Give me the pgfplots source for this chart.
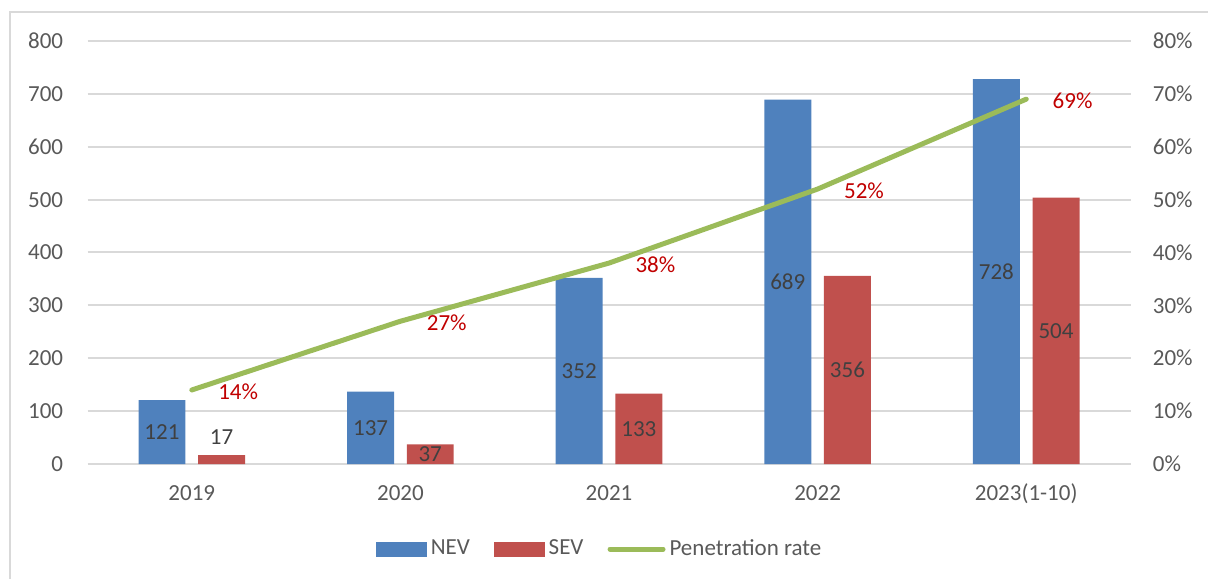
\documentclass[border=0pt]{standalone}
\usepackage{pgfplots}
\pgfplotsset{compat=1.18}
\usepackage{pgfplotstable}
\usepackage{fontspec}
\setmainfont{Carlito}
\definecolor{nev}{HTML}{4F81BD}
\definecolor{sev}{HTML}{C0504D}
\definecolor{pen}{HTML}{9BBB59}
\definecolor{tickc}{HTML}{595959}
\definecolor{gridc}{HTML}{D9D9D9}
\definecolor{lab}{HTML}{404040}
\definecolor{pct}{HTML}{C00000}

\pgfplotstableread{
x nev sev
0 121 17
1 137 37
2 352 133
3 689 356
4 728 504
}\bars

\pgfplotstableread{
x y t
-0.143 60.5 121
0.143 51 17
0.857 68.5 137
1.143 18.5 37
1.857 176 352
2.143 66.5 133
2.857 344.5 689
3.143 178 356
3.857 364 728
4.143 252 504
}\barlabels

\pgfplotstableread{
x r t
0 0.14 14\%
1 0.27 27\%
2 0.38 38\%
3 0.52 52\%
4 0.69 69\%
}\rate

\begin{document}
\begin{tikzpicture}[font=\fontsize{11.5}{13.8}\selectfont]
\useasboundingbox (0,0) rectangle (604pt,289pt);
\draw[gridc, line width=0.8pt] (5pt,-2pt) -- (5pt,283pt) -- (610pt,283pt);
\pgfplotsset{base/.style={scale only axis, width=521.5pt, height=211.5pt,
  at={(43.75pt,57pt)}, anchor=south west, xmin=-0.5, xmax=4.5,
  axis line style={draw=none}, major tick length=0pt,
  tick label style={text=tickc},
  /pgf/number format/assume math mode=true}}

\begin{axis}[base, ymin=0, ymax=800, ytick={0,100,...,800},
  ymajorgrids, grid style={gridc, line width=1pt},
  xtick={0,1,2,3,4}, xticklabels={2019,2020,2021,2022,2023(1-10)},
  yticklabel style={anchor=east, inner sep=0pt, xshift=-12pt},
  xticklabel style={anchor=base, inner sep=0pt, yshift=-18pt}]
\addplot[ybar, bar width=0.225, bar shift=-0.143, fill=nev, draw=none] table[x=x,y=nev]{\bars};
\addplot[ybar, bar width=0.225, bar shift=0.143, fill=sev, draw=none] table[x=x,y=sev]{\bars};
\addplot[draw=none, mark=none, nodes near coords, point meta=explicit symbolic,
  nodes near coords style={anchor=center, text=lab, inner sep=0pt}]
  table[x=x, y=y, meta=t]{\barlabels};
\end{axis}

\begin{axis}[base, ymin=0, ymax=0.8, axis y line*=right, axis x line=none,
  ytick={0,0.1,0.2,0.3,0.4,0.5,0.6,0.7,0.8},
  yticklabels={0\%,10\%,20\%,30\%,40\%,50\%,60\%,70\%,80\%},
  yticklabel style={anchor=west, inner sep=0pt, xshift=11pt},
  legend style={at={(0.492,-0.201)}, anchor=center, legend columns=3, draw=none, fill=none,
    text=tickc, /tikz/every even column/.append style={column sep=10pt},
    nodes={inner xsep=2pt}}]
\addlegendimage{legend image code/.code={\fill[nev] (0pt,-3.5pt) rectangle (25pt,3.5pt);}}
\addlegendentry{NEV}
\addlegendimage{legend image code/.code={\fill[sev] (0pt,-3.5pt) rectangle (25pt,3.5pt);}}
\addlegendentry{SEV}
\addlegendimage{legend image code/.code={\draw[pen, line width=2.5pt, line cap=round] (0pt,0pt) -- (26.5pt,0pt);}}
\addlegendentry{Penetration rate}
\addplot[forget plot, pen, line width=2.5pt, mark=none, line cap=round,
  nodes near coords, point meta=explicit symbolic,
  nodes near coords style={anchor=west, text=pct, inner sep=0pt, xshift=12pt, yshift=-1pt}]
  table[x=x, y=r, meta=t]{\rate};
\end{axis}
\end{tikzpicture}
\end{document}
